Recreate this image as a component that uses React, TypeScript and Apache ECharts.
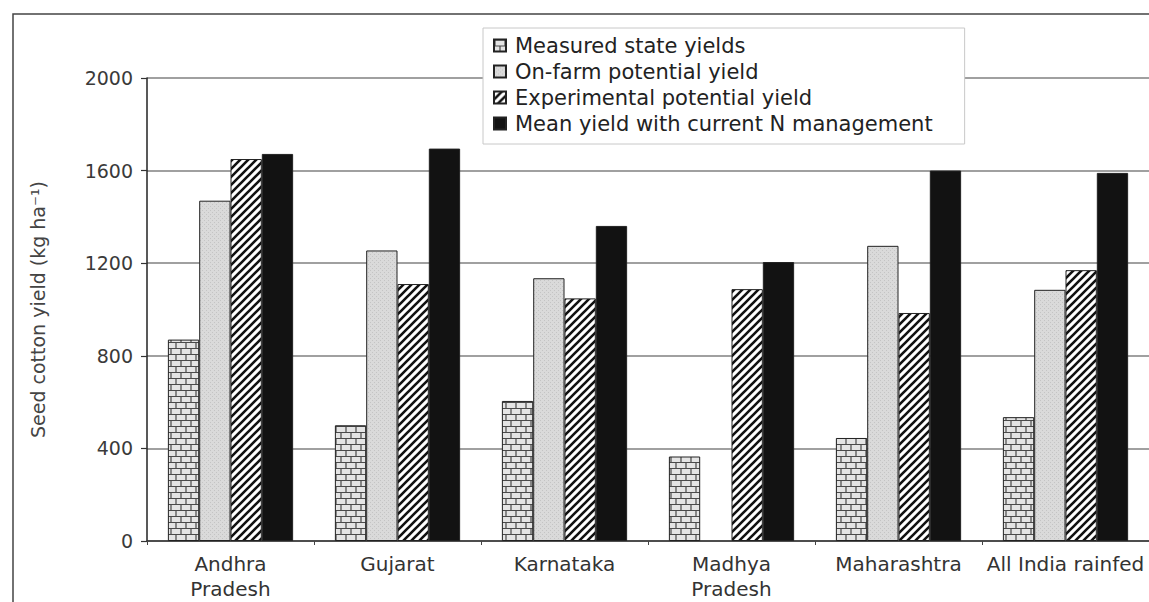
import React, { useEffect, useRef } from "react";
import * as echarts from "echarts";

const categories = ["Andhra\nPradesh", "Gujarat", "Karnataka", "Madhya\nPradesh", "Maharashtra", "All India rainfed"];
const seriesNames = [
  "Measured state yields",
  "On-farm potential yield",
  "Experimental potential yield",
  "Mean yield with current N management",
];
const measured = [870, 500, 605, 365, 445, 535];
const onFarm: (number | null)[] = [1470, 1255, 1135, null, 1275, 1085];
const experimental = [1650, 1110, 1048, 1088, 985, 1170];
const meanN = [1672, 1695, 1361, 1205, 1600, 1590];
const yTicks = [0, 400, 800, 1200, 1600, 2000];

const FONT = "DejaVu Sans, Arial, sans-serif";

function makeCanvas(w: number, h: number, draw: (ctx: CanvasRenderingContext2D) => void) {
  const c = document.createElement("canvas");
  c.width = w;
  c.height = h;
  const ctx = c.getContext("2d")!;
  draw(ctx);
  return c;
}

export default function App() {
  const ref = useRef<HTMLDivElement>(null);
  useEffect(() => {
    if (!ref.current) return;
    const chart = echarts.init(ref.current, null, { renderer: "svg" });

    const brick = makeCanvas(10, 12, (ctx) => {
      ctx.fillStyle = "#e4e4e4";
      ctx.fillRect(0, 0, 10, 12);
      ctx.strokeStyle = "#4a4a4a";
      ctx.lineWidth = 1.2;
      ctx.beginPath();
      ctx.moveTo(0, 0.5); ctx.lineTo(10, 0.5);
      ctx.moveTo(0, 6.5); ctx.lineTo(10, 6.5);
      ctx.moveTo(1, 0); ctx.lineTo(1, 6.5);
      ctx.moveTo(6, 6.5); ctx.lineTo(6, 12);
      ctx.stroke();
    });
    const dotted = makeCanvas(4, 4, (ctx) => {
      ctx.fillStyle = "#dadada";
      ctx.fillRect(0, 0, 4, 4);
      ctx.fillStyle = "#c4c4c4";
      ctx.fillRect(0, 0, 1, 1);
      ctx.fillRect(2, 2, 1, 1);
    });
    const hatch = makeCanvas(8, 8, (ctx) => {
      ctx.fillStyle = "#ffffff";
      ctx.fillRect(0, 0, 8, 8);
      ctx.strokeStyle = "#111";
      ctx.lineWidth = 2.6;
      ctx.beginPath();
      ctx.moveTo(-1, 9); ctx.lineTo(9, -1);
      ctx.moveTo(-5, 5); ctx.lineTo(5, -5);
      ctx.moveTo(3, 13); ctx.lineTo(13, 3);
      ctx.stroke();
    });

    const fills: any[] = [
      { image: brick, repeat: "repeat" },
      { image: dotted, repeat: "repeat" },
      { image: hatch, repeat: "repeat" },
      "#121212",
    ];
    const datas = [measured, onFarm, experimental, meanN];

    chart.setOption({
      animation: false,
      backgroundColor: "#ffffff",
      graphic: [
        {
          type: "rect",
          silent: true,
          z: -10,
          shape: { x: 13, y: 14, width: 1300, height: 800 },
          style: { fill: "none", stroke: "#444", lineWidth: 1.5 },
        },
      ],
      legend: {
        orient: "vertical",
        left: 483,
        top: 28,
        backgroundColor: "#ffffff",
        borderColor: "#c8c8c8",
        borderWidth: 1,
        padding: [7, 32, 10, 10],
        itemWidth: 12,
        itemHeight: 12,
        itemGap: 5,
        icon: "rect",
        textStyle: { fontFamily: FONT, fontSize: 21, lineHeight: 21, color: "#222", padding: [0, 0, 0, 4] },
        data: seriesNames,
        z: 10,
      },
      grid: { left: 147, right: 0, top: 78, bottom: 61, containLabel: false },
      xAxis: {
        type: "category",
        data: categories,
        axisLine: { show: true, lineStyle: { color: "#333", width: 1.5 } },
        axisTick: { show: true, length: 4, lineStyle: { color: "#444" } },
        axisLabel: { fontFamily: FONT, fontSize: 20, lineHeight: 25, color: "#333", margin: 10, interval: 0 },
        splitLine: { show: false },
      },
      yAxis: {
        type: "value",
        min: 0,
        max: 2000,
        interval: 400,
        name: "Seed cotton yield (kg ha⁻¹)",
        nameLocation: "middle",
        nameGap: 100,
        nameRotate: 90,
        nameTextStyle: { fontFamily: FONT, fontSize: 19, color: "#444" },
        axisLine: { show: true, lineStyle: { color: "#222", width: 1.5 } },
        axisTick: { show: true, length: 6, inside: false, lineStyle: { color: "#333", width: 1.2 } },
        axisLabel: {
          fontFamily: FONT,
          fontSize: 19,
          color: "#3a3a3a",
          margin: 14,
          formatter: (v: number) => (yTicks.includes(v) ? String(v) : ""),
        },
        splitLine: { show: true, lineStyle: { color: "#808080", width: 1.5 } },
      },
      series: seriesNames.map((name, i) => ({
        name,
        type: "bar",
        data: datas[i],
        barGap: "0%",
        barCategoryGap: "25%",
        itemStyle: { color: fills[i], borderColor: "#222", borderWidth: 1 },
      })),
    });
    return () => chart.dispose();
  }, []);
  return (
    <div
      ref={ref}
      style={{ position: "absolute", left: 0, top: 0, width: 1149, height: 602, background: "#fff" }}
    />
  );
}
